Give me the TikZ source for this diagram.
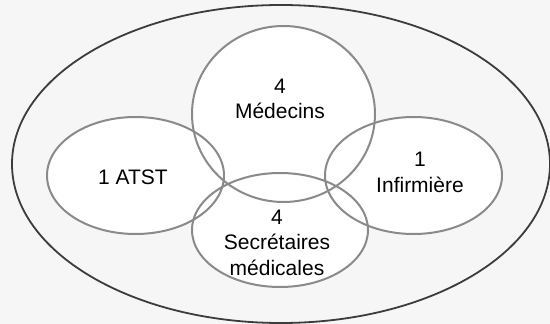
\documentclass[tikz,border=0pt]{standalone}
\usepackage{fontspec}
\setmainfont{Liberation Sans}
\definecolor{pagebg}{HTML}{F6F6F6}
\definecolor{outerline}{HTML}{3C3C3C}
\definecolor{setline}{HTML}{8A8A8A}
\begin{document}
\begin{tikzpicture}[x=1pt,y=-1pt,
  setfill/.style={fill=white},
  setedge/.style={draw=setline,line width=2pt},
  outeredge/.style={draw=outerline,line width=1.8pt},
  lbl/.style={font=\fontsize{21}{25.5}\selectfont,align=center,text=black,inner sep=0pt}]
  \fill[pagebg] (0,0) rectangle (550,324);
  \useasboundingbox (0,0) rectangle (550,324);
  % whole team
  \draw[outeredge] (281,164) ellipse [x radius=269, y radius=159];
  % white interiors of the four groups
  \fill[setfill] (283.5,114) ellipse [x radius=91.5, y radius=88];
  \fill[setfill] (135.5,175.5) ellipse [x radius=88.5, y radius=58.5];
  \fill[setfill] (413.5,175.5) ellipse [x radius=88.5, y radius=58.5];
  \fill[setfill] (280,230) ellipse [x radius=88, y radius=57];
  % outlines on top so every overlap stays visible
  \draw[setedge] (283.5,114) ellipse [x radius=91.5, y radius=88];
  \draw[setedge] (135.5,175.5) ellipse [x radius=88.5, y radius=58.5];
  \draw[setedge] (413.5,175.5) ellipse [x radius=88.5, y radius=58.5];
  \draw[setedge] (280,230) ellipse [x radius=88, y radius=57];
  % labels
  \node[lbl] (med) at (280,99) {4\\Médecins};
  \node[lbl] (atst) at (133,177) {1 ATST};
  \node[lbl] (inf) at (420,172.5) {1\\Infirmière};
  \node[lbl] (sec) at (277,242.5) {4\\Secrétaires\\médicales};
\end{tikzpicture}
\end{document}
